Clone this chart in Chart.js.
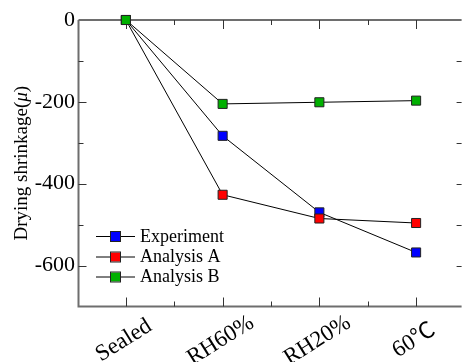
<!DOCTYPE html>
<html>
<head>
<meta charset="utf-8">
<script src="https://cdn.jsdelivr.net/npm/chart.js@4/dist/chart.umd.min.js"></script>
<style>
html,body{margin:0;padding:0;background:#fff;}
canvas{display:block;}
</style>
</head>
<body>
<canvas id="c" width="468" height="362"></canvas>
<script>
// ---- data ----
const categories = ['Sealed', 'RH60%', 'RH20%', '60\u2103'];
const seriesNames = ['Experiment', 'Analysis A', 'Analysis B'];
const experiment = [0, -283, -470, -568];
const analysisA = [0, -427, -485, -496];
const analysisB = [0, -205, -201, -197];
const yTickLabels = [0, -200, -400, -600];
const yAxisTitle = ['Drying shrinkage(', '\u03BC', ')'];

const FONT = '"Liberation Serif", "Noto Sans CJK JP"';
const colors = ['#0000ff', '#ff0000', '#00b000'];
const seriesValues = [experiment, analysisA, analysisB];

function toPoints(vals) { return categories.map((c, i) => ({x: i, y: vals[i]})); }

const datasets = seriesValues.map((vals, k) => ({
  label: seriesNames[k],
  data: toPoints(vals),
  borderColor: '#000',
  borderWidth: 1,
  tension: 0,
  fill: false,
  pointStyle: 'rect',
  pointRadius: 6.4,
  pointHoverRadius: 6.4,
  pointBackgroundColor: colors[k],
  pointBorderColor: '#222',
  pointBorderWidth: 1,
  clip: false,
  order: 3 - k
}));

const decor = {
  id: 'decor',
  beforeDatasetsDraw(chart) {
    const {ctx, chartArea: a, scales: {x, y}} = chart;
    ctx.save();
    ctx.strokeStyle = '#6e6e6e';
    ctx.lineWidth = 2;
    ctx.beginPath();
    ctx.moveTo(a.left, a.top); ctx.lineTo(a.right + 1, a.top);
    ctx.moveTo(a.left, a.top); ctx.lineTo(a.left, a.bottom);
    ctx.moveTo(a.left - 1, a.bottom); ctx.lineTo(a.right + 1, a.bottom);
    ctx.stroke();
    ctx.strokeStyle = '#333';
    ctx.lineWidth = 1;
    ctx.beginPath();
    for (let v = -100; v > -700; v -= 100) {
      const py = Math.round(y.getPixelForValue(v)) + 0.5;
      const major = yTickLabels.includes(v);
      ctx.moveTo(a.left, py); ctx.lineTo(a.left + (major ? 8 : 5), py);
      ctx.moveTo(a.right + 1, py); ctx.lineTo(a.right - 4, py);
    }
    for (let i = 0; i <= (categories.length - 1) * 2; i++) {
      const v = i / 2;
      const px = Math.round(x.getPixelForValue(v)) + 0.5;
      const len = i % 2 === 0 ? 9 : 5;
      ctx.moveTo(px, a.bottom); ctx.lineTo(px, a.bottom - len);
      ctx.moveTo(px, a.top); ctx.lineTo(px, a.top + len);
    }
    ctx.stroke();
    ctx.restore();
  },
  afterDraw(chart) {
    const {ctx, chartArea: a, scales: {x}} = chart;
    ctx.save();
    ctx.fillStyle = '#000';
    ctx.font = '23px ' + FONT;
    ctx.textAlign = 'center';
    ctx.textBaseline = 'middle';
    categories.forEach((lab, i) => {
      const px = x.getPixelForValue(i);
      ctx.save();
      ctx.translate(px - 2, a.bottom + 34);
      ctx.rotate(-32 * Math.PI / 180);
      ctx.fillText(lab, 0, 0);
      ctx.restore();
    });
    const fN = '19px ' + FONT, fI = 'italic 19px ' + FONT;
    const parts = [[yAxisTitle[0], fN], [yAxisTitle[1], fI], [yAxisTitle[2], fN]];
    let total = 0;
    parts.forEach(p => { ctx.font = p[1]; total += ctx.measureText(p[0]).width; });
    ctx.save();
    ctx.translate(27, (a.top + a.bottom) / 2);
    ctx.rotate(-Math.PI / 2);
    ctx.textAlign = 'left';
    ctx.textBaseline = 'alphabetic';
    let cx = -total / 2;
    parts.forEach(p => { ctx.font = p[1]; ctx.fillText(p[0], cx, 0); cx += ctx.measureText(p[0]).width; });
    ctx.restore();
    const rows = [236, 256.5, 276.5];
    chart.data.datasets.forEach((ds, k) => {
      const ry = rows[k];
      ctx.strokeStyle = '#000';
      ctx.lineWidth = 1;
      ctx.beginPath();
      ctx.moveTo(96, ry + 0.5); ctx.lineTo(135, ry + 0.5);
      ctx.stroke();
      ctx.fillStyle = ds.pointBackgroundColor;
      ctx.fillRect(111, ry - 4, 9, 9);
      ctx.strokeStyle = '#222';
      ctx.strokeRect(110.5, ry - 4.5, 10, 10);
      ctx.fillStyle = '#000';
      ctx.font = '18px ' + FONT;
      ctx.textAlign = 'left';
      ctx.textBaseline = 'middle';
      ctx.fillText(ds.label, 140, ry + 1);
    });
    ctx.restore();
  }
};

let chart = null;
function build() {
  if (chart) return;
  chart = new Chart(document.getElementById('c'), {
    type: 'line',
    data: {datasets},
    options: {
      responsive: false,
      animation: false,
      events: [],
      layout: {padding: {top: 20, right: 1, left: 0, bottom: 0}},
      plugins: {legend: {display: false}, tooltip: {enabled: false}},
      scales: {
        x: {
          type: 'linear', min: -0.49, max: 3.46,
          grid: {display: false, drawTicks: false},
          border: {display: false},
          ticks: {display: false},
          afterFit: s => { s.height = 55.5; }
        },
        y: {
          type: 'linear', min: -700, max: 0,
          grid: {display: false, drawTicks: false},
          border: {display: false},
          ticks: {
            stepSize: 100, padding: 3.5, color: '#000',
            font: {family: FONT, size: 22},
            callback: v => (yTickLabels.includes(v) ? String(v) : '')
          },
          afterFit: s => { s.width = 78.5; }
        }
      }
    },
    plugins: [decor]
  });
}

Promise.all([
  document.fonts.load('18px "Liberation Serif"'),
  document.fonts.load('italic 18px "Liberation Serif"')
]).then(build, build);
</script>
</body>
</html>
